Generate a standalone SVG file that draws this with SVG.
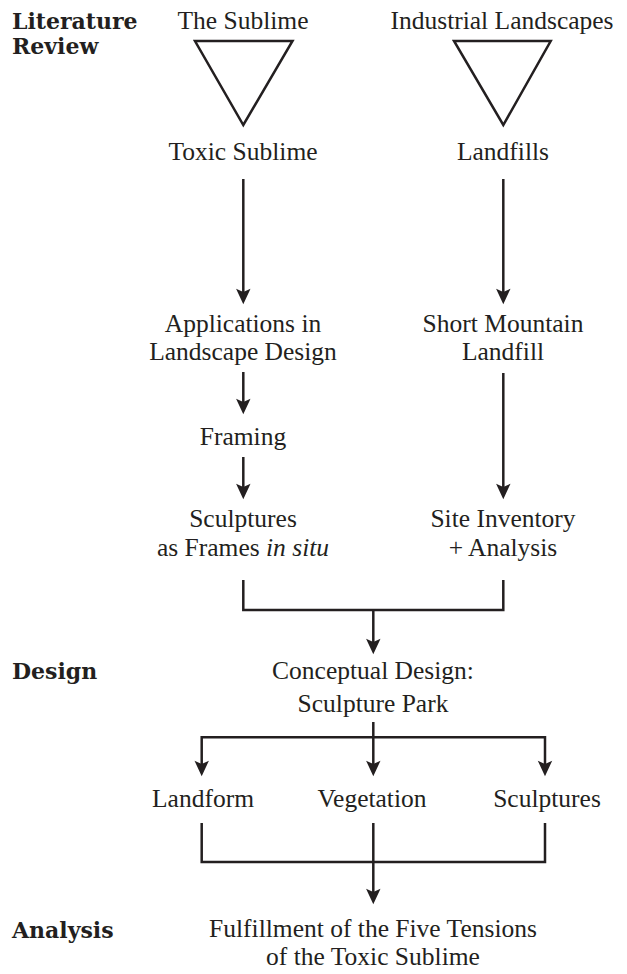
<svg xmlns="http://www.w3.org/2000/svg" width="627" height="974" viewBox="0 0 627 974">
<style>
  .t { font-family: "Liberation Serif", "Times New Roman", serif; font-size: 25.5px; fill: #231f20; text-anchor: middle; }
  .b { font-family: "DejaVu Serif", "Liberation Serif", serif; font-weight: bold; font-size: 22px; fill: #231f20; }
  .ln { fill: none; stroke: #231f20; stroke-width: 2.5; }
  .tri { fill: none; stroke: #231f20; stroke-width: 2.5; stroke-linejoin: miter; }
  .arr { marker-end: url(#ah); }
</style>
<defs>
  <marker id="ah" markerUnits="userSpaceOnUse" markerWidth="20" markerHeight="20" viewBox="-16 -8 18 16" refX="-11" refY="0" orient="auto">
    <path d="M0,0 L-14,-6.5 L-11,0 L-14,6.5 Z" fill="#231f20"/>
  </marker>
</defs>
<rect width="627" height="974" fill="#ffffff"/>

<g id="phase-labels">
  <text class="b" x="12" y="29">Literature</text>
  <text class="b" x="12" y="54">Review</text>
  <text class="b" x="12" y="679">Design</text>
  <text class="b" x="12" y="938">Analysis</text>
</g>

<g id="the-sublime"><text class="t" x="243" y="29">The Sublime</text></g>
<g id="industrial-landscapes"><text class="t" x="502" y="29">Industrial Landscapes</text></g>
<g id="funnel-left"><polygon class="tri" points="195,41 292.5,41 243.3,125"/></g>
<g id="funnel-right"><polygon class="tri" points="454,41 550.7,41 503.3,125"/></g>
<g id="toxic-sublime"><text class="t" x="243" y="160">Toxic Sublime</text></g>
<g id="landfills"><text class="t" x="503" y="160">Landfills</text></g>
<g id="applications">
  <text class="t" x="243" y="332">Applications in</text>
  <text class="t" x="243" y="360">Landscape Design</text>
</g>
<g id="short-mountain">
  <text class="t" x="503" y="332">Short Mountain</text>
  <text class="t" x="503" y="360">Landfill</text>
</g>
<g id="framing"><text class="t" x="243" y="445">Framing</text></g>
<g id="sculptures-frames">
  <text class="t" x="243" y="527">Sculptures</text>
  <text class="t" x="243" y="556">as Frames <tspan font-style="italic">in situ</tspan></text>
</g>
<g id="site-inventory">
  <text class="t" x="503" y="527">Site Inventory</text>
  <text class="t" x="503" y="556">+ Analysis</text>
</g>
<g id="conceptual-design">
  <text class="t" x="373" y="679">Conceptual Design:</text>
  <text class="t" x="373" y="712">Sculpture Park</text>
</g>
<g id="landform"><text class="t" x="203" y="807">Landform</text></g>
<g id="vegetation"><text class="t" x="372" y="807">Vegetation</text></g>
<g id="sculptures"><text class="t" x="547" y="807">Sculptures</text></g>
<g id="fulfillment">
  <text class="t" x="373" y="937">Fulfillment of the Five Tensions</text>
  <text class="t" x="373" y="965">of the Toxic Sublime</text>
</g>

<g id="connectors">
  <line class="ln arr" x1="243.3" y1="179" x2="243.3" y2="292"/>
  <line class="ln arr" x1="503.3" y1="179" x2="503.3" y2="292"/>
  <line class="ln arr" x1="243.3" y1="372" x2="243.3" y2="402"/>
  <line class="ln arr" x1="243.3" y1="457" x2="243.3" y2="487"/>
  <line class="ln arr" x1="503.3" y1="373" x2="503.3" y2="487"/>
  <polyline class="ln" points="243.3,580 243.3,610 503.3,610 503.3,580"/>
  <line class="ln arr" x1="373.3" y1="610" x2="373.3" y2="642"/>
  <line class="ln" x1="373.3" y1="722" x2="373.3" y2="737.3"/>
  <line class="ln" x1="201.7" y1="737.3" x2="545" y2="737.3"/>
  <line class="ln arr" x1="201.7" y1="736" x2="201.7" y2="764"/>
  <line class="ln arr" x1="373.3" y1="736" x2="373.3" y2="764"/>
  <line class="ln arr" x1="545" y1="736" x2="545" y2="764"/>
  <polyline class="ln" points="201.7,823 201.7,862 545,862 545,823"/>
  <line class="ln arr" x1="373.3" y1="823" x2="373.3" y2="892"/>
</g>
</svg>
